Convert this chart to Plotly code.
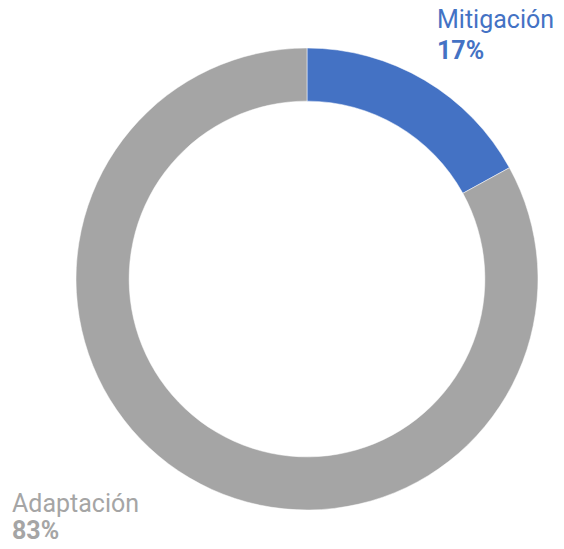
import plotly.graph_objects as go

labels = ["Mitigación", "Adaptación"]
values = [17, 83]
colors = ["#4472C4", "#A5A5A5"]
pct_text = ["17%", "83%"]

W, H = 564, 549
fig = go.Figure(go.Pie(
    labels=labels, values=values, sort=False, direction="clockwise", rotation=0,
    hole=0.77, textinfo="none", hoverinfo="label+percent",
    marker=dict(colors=colors, line=dict(color="white", width=0.5)),
    domain=dict(x=[68/W, 530/W], y=[(H-502)/H, (H-40)/H]),
    showlegend=False,
))

FS = 25
def ann(text, x_px, top_px, color):
    fig.add_annotation(x=x_px/W, y=1 - top_px/H, xref="paper", yref="paper",
                       xanchor="left", yanchor="top", text=text, align="left",
                       showarrow=False, borderpad=0,
                       font=dict(family="Roboto", size=FS, color=color))

ann(labels[0], 428, -4, colors[0])
ann(f"<b>{pct_text[0]}</b>", 428, 27, colors[0])
ann(labels[1], 3, 480, colors[1])
ann(f"<b>{pct_text[1]}</b>", 3, 507, colors[1])

fig.update_layout(width=W, height=H, margin=dict(l=0, r=0, t=0, b=0),
                  paper_bgcolor="white", plot_bgcolor="white")
fig.write_html("out.html")
